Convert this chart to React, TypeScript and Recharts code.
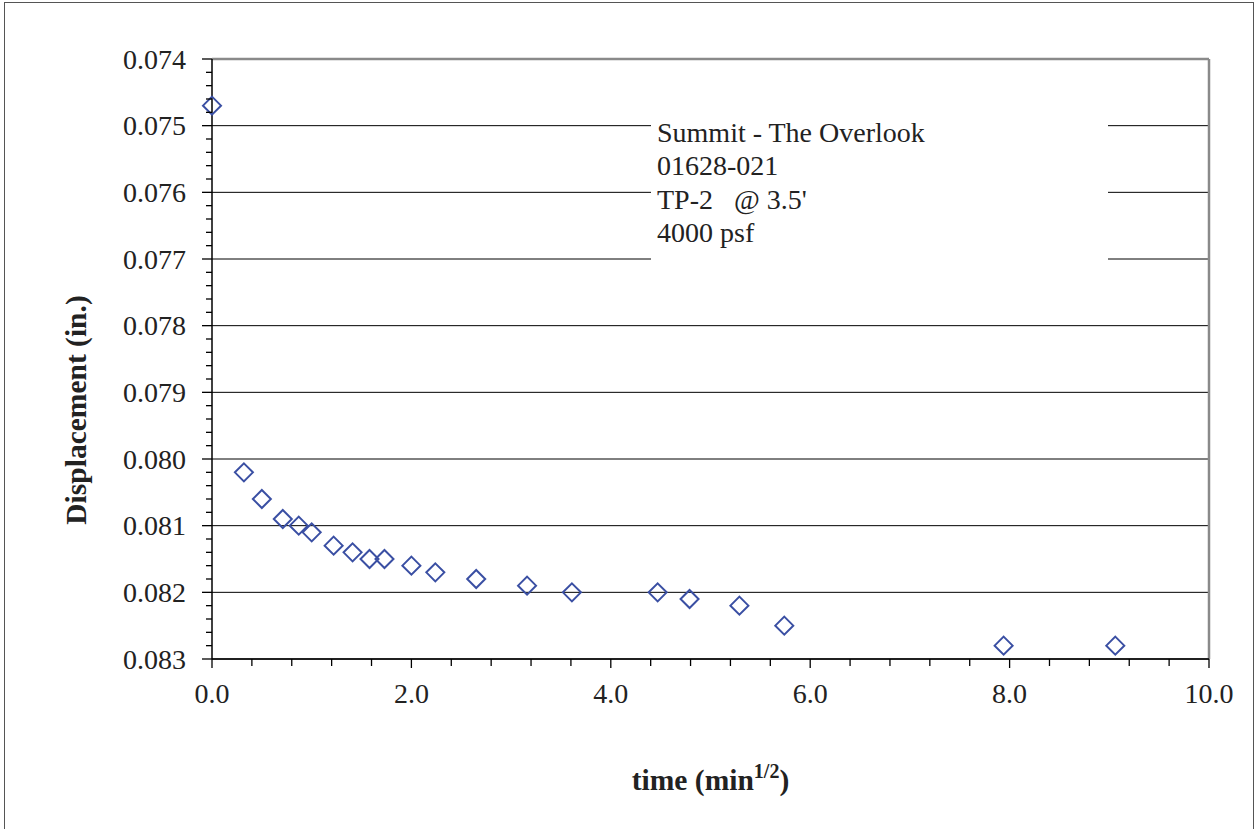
import React from "react";
import {
  ScatterChart,
  Scatter,
  XAxis,
  YAxis,
  CartesianGrid,
  ReferenceLine,
} from "recharts";

// time in min^1/2 and the dial reading in inches
const timeRoot = [
  0, 0.32, 0.5, 0.71, 0.87, 1.0, 1.22, 1.41, 1.58, 1.73, 2.0, 2.24, 2.65,
  3.16, 3.61, 4.47, 4.79, 5.29, 5.74, 7.94, 9.06,
];
const displacement = [
  0.0747, 0.0802, 0.0806, 0.0809, 0.081, 0.0811, 0.0813, 0.0814, 0.0815,
  0.0815, 0.0816, 0.0817, 0.0818, 0.0819, 0.082, 0.082, 0.0821, 0.0822,
  0.0825, 0.0828, 0.0828,
];

const xMajorTicks = [0, 2, 4, 6, 8, 10];
const yMajorTicks = [
  0.074, 0.075, 0.076, 0.077, 0.078, 0.079, 0.08, 0.081, 0.082, 0.083,
];
const noteLines = ["Summit - The Overlook", "01628-021", "TP-2   @ 3.5'", "4000 psf"];

const FONT = "'Liberation Serif', 'Times New Roman', serif";
const BLUE = "#3a4fa3";

// five minor divisions between each pair of major ticks
const withMinor = (majors: number[]) => {
  const out: number[] = [];
  for (let i = 0; i < majors.length - 1; i++) {
    const step = (majors[i + 1] - majors[i]) / 5;
    for (let k = 0; k < 5; k++) out.push(majors[i] + step * k);
  }
  out.push(majors[majors.length - 1]);
  return out;
};
const isMajor = (majors: number[], v: number) =>
  majors.some((t) => Math.abs(t - v) < 1e-9);

const data = timeRoot.map((t, i) => ({ t, d: displacement[i] }));

const YTick = (props: any) => {
  const { x, y, payload } = props;
  const major = isMajor(yMajorTicks, payload.value);
  return (
    <g>
      <line x1={x} x2={x - (major ? 10 : 6)} y1={y} y2={y} stroke="#000" strokeWidth={1.3} />
      {major && (
        <text x={x - 26} y={y} dy="0.35em" textAnchor="end" fontFamily={FONT} fontSize={28} fill="#222">
          {payload.value.toFixed(3)}
        </text>
      )}
    </g>
  );
};

const XTick = (props: any) => {
  const { x, y, payload } = props;
  const major = isMajor(xMajorTicks, payload.value);
  return (
    <g>
      <line x1={x} x2={x} y1={y} y2={y + (major ? 9 : 7)} stroke="#000" strokeWidth={1.3} />
      {major && (
        <text x={x} y={y + 44} textAnchor="middle" fontFamily={FONT} fontSize={28} fill="#222">
          {payload.value.toFixed(1)}
        </text>
      )}
    </g>
  );
};

const Diamond = (props: any) => {
  const { cx, cy } = props;
  const r = 9;
  return (
    <polygon
      points={`${cx},${cy - r} ${cx + r},${cy} ${cx},${cy + r} ${cx - r},${cy}`}
      fill="none"
      stroke={BLUE}
      strokeWidth={2}
    />
  );
};

export default function App() {
  return (
    <div style={{ position: "absolute", left: 0, top: 0, width: 1259, height: 829 }}>
      <ScatterChart
        width={1259}
        height={829}
        margin={{ top: 59, right: 50, bottom: 110, left: 102 }}
      >
        <CartesianGrid
          vertical={false}
          horizontalValues={yMajorTicks}
          stroke="#000"
          strokeWidth={1}
        />
        <XAxis
          type="number"
          dataKey="t"
          domain={[0, 10]}
          ticks={withMinor(xMajorTicks)}
          interval={0}
          height={60}
          tickSize={0}
          tickMargin={0}
          tickLine={false}
          tick={<XTick />}
          axisLine={{ stroke: "#000", strokeWidth: 1.5 }}
          label={{
            content: (p: any) => {
              const vb = p.viewBox;
              return (
                <text
                  x={vb.x + vb.width / 2}
                  y={790}
                  textAnchor="middle"
                  fontFamily={FONT}
                  fontSize={29.5}
                  fontWeight="bold"
                  fill="#222"
                >
                  time (min
                  <tspan fontSize={20} dy={-12}>1/2</tspan>
                  <tspan dy={12}>)</tspan>
                </text>
              );
            },
          }}
        />
        <YAxis
          type="number"
          dataKey="d"
          reversed
          domain={[0.074, 0.083]}
          ticks={withMinor(yMajorTicks)}
          interval={0}
          width={110}
          tickSize={0}
          tickMargin={0}
          tickLine={false}
          tick={<YTick />}
          axisLine={{ stroke: "#000", strokeWidth: 1.5 }}
          label={{
            content: () => (
              <text
                x={86}
                y={410}
                transform="rotate(-90 86 410)"
                textAnchor="middle"
                fontFamily={FONT}
                fontSize={29.5}
                fontWeight="bold"
                fill="#222"
              >
                Displacement (in.)
              </text>
            ),
          }}
        />
        <ReferenceLine y={0.074} stroke="#8a8a8a" strokeWidth={2.5} />
        <ReferenceLine x={10} stroke="#8a8a8a" strokeWidth={2.5} />
        <Scatter data={data} shape={<Diamond />} isAnimationActive={false} />
      </ScatterChart>
      <div
        style={{
          position: "absolute",
          left: 651,
          top: 100,
          width: 457,
          height: 170,
          background: "#fff",
          fontFamily: FONT,
          fontSize: 28,
          lineHeight: "33.3px",
          color: "#222",
          paddingLeft: 6,
          paddingTop: 16,
          boxSizing: "border-box",
          whiteSpace: "pre",
        }}
      >
        {noteLines.map((l) => (
          <div key={l}>{l}</div>
        ))}
      </div>
      <div
        style={{
          position: "absolute",
          left: 4,
          top: 2,
          width: 1250,
          height: 827,
          borderLeft: "1.5px solid #555",
          borderTop: "1.5px solid #555",
          borderRight: "1.5px solid #555",
          boxSizing: "border-box",
          pointerEvents: "none",
        }}
      />
    </div>
  );
}
